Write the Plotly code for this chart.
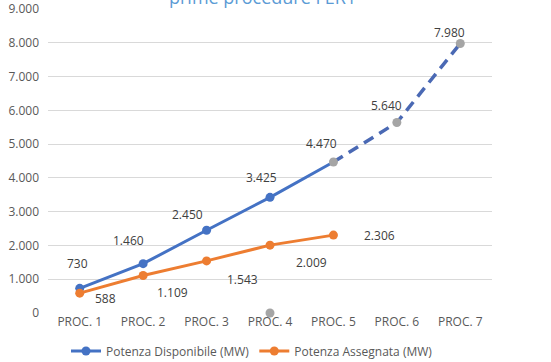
import plotly.graph_objects as go

categories = ["PROC. 1", "PROC. 2", "PROC. 3", "PROC. 4", "PROC. 5", "PROC. 6", "PROC. 7"]
disponibile = [730, 1460, 2450, 3425, 4470, 5640, 7980]
assegnata = [588, 1109, 1543, 2009, 2306]
n_solid = 5  # Disponibile actual values up to PROC. 5, forecast afterwards
extra_cat = ["PROC. 4"]
extra_val = [0]
y_ticks = [0, 1000, 2000, 3000, 4000, 5000, 6000, 7000, 8000, 9000]
title_text = "prime procedure FER1"

BLUE = "#4472C4"
BLUE_DASH = "#4A69B4"
ORANGE = "#ED7D31"
GRAY = "#A5A5A5"
TXT = "#595959"
FONT = "Open Sans"

# label offsets (style)
blue_dx = [-2, -15, -19, -9, -12, -10, -11]
blue_dy = [25, 23, 16, 20, 19, 17, 11]
orange_dx = [26, 29, 36, 41, 46]
orange_dy = [-5, -17, -19, -17, 0]

fig = go.Figure()

blue_marker_colors = [BLUE] * (n_solid - 1) + [GRAY] * (len(disponibile) - n_solid + 1)

fig.add_trace(go.Scatter(
    x=categories[n_solid - 1:], y=disponibile[n_solid - 1:], mode="lines",
    line=dict(color=BLUE_DASH, width=3.5, dash="11px,7px"), showlegend=False, hoverinfo="skip",
    cliponaxis=False))
fig.add_trace(go.Scatter(
    x=categories[:n_solid], y=disponibile[:n_solid], mode="lines",
    line=dict(color=BLUE, width=3), cliponaxis=False, showlegend=False))
fig.add_trace(go.Scatter(
    x=categories, y=disponibile, mode="markers",
    marker=dict(color=blue_marker_colors, size=9), showlegend=False, cliponaxis=False))
# legend entries
fig.add_trace(go.Scatter(
    x=[None], y=[None], mode="lines+markers", name="Potenza Disponibile (MW)",
    line=dict(color=BLUE, width=3), marker=dict(color=BLUE, size=9)))
fig.add_trace(go.Scatter(
    x=categories[:len(assegnata)], y=assegnata, mode="lines+markers",
    name="Potenza Assegnata (MW)", line=dict(color=ORANGE, width=3),
    marker=dict(color=ORANGE, size=9), cliponaxis=False))
fig.add_trace(go.Scatter(
    x=extra_cat, y=extra_val, mode="markers", marker=dict(color=GRAY, size=9),
    showlegend=False, cliponaxis=False))

def fmt(v):
    return f"{v:,}".replace(",", ".")

annotations = []
for c, v, dx, dy in zip(categories, disponibile, blue_dx, blue_dy):
    annotations.append(dict(x=c, y=v, xref="x", yref="y", text=fmt(v), showarrow=False,
                            xshift=dx, yshift=dy, font=dict(family=FONT, size=12, color="#404040")))
for c, v, dx, dy in zip(categories, assegnata, orange_dx, orange_dy):
    annotations.append(dict(x=c, y=v, xref="x", yref="y", text=fmt(v), showarrow=False,
                            xshift=dx, yshift=dy, font=dict(family=FONT, size=12, color="#404040")))
annotations.append(dict(x=(262 - 48) / 444, y=1, xref="paper", yref="paper", text=title_text,
                        showarrow=False, xanchor="center", yanchor="bottom", yshift=-2,
                        font=dict(family=FONT, size=18, color="#5B9BD5")))

fig.update_layout(
    width=551, height=362,
    margin=dict(l=48, r=59, t=9, b=49, autoexpand=False),
    paper_bgcolor="white", plot_bgcolor="white",
    separators=",.",
    font=dict(family=FONT, size=12, color=TXT),
    showlegend=True,
    legend=dict(orientation="h", x=(252 - 48) / 444, xanchor="center", y=-0.125, yanchor="middle",
                font=dict(family=FONT, size=12, color=TXT), itemwidth=30, tracegroupgap=0,
                bgcolor="rgba(0,0,0,0)"),
    annotations=annotations,
)
fig.update_xaxes(type="category", categoryorder="array", categoryarray=categories,
                 range=[-0.5, 6.5], showgrid=False, showline=False, zeroline=False,
                 ticks="", tickfont=dict(family=FONT, size=12, color=TXT), automargin=False)
fig.update_yaxes(range=[0, 9000], tickvals=y_ticks, tickformat=",d",
                 showgrid=True, gridcolor="#D9D9D9", gridwidth=1, zeroline=False,
                 showline=False, ticks="", tickfont=dict(family=FONT, size=12, color=TXT),
                 ticklabelstandoff=8, automargin=False)

fig.write_html("out.html", config={"displayModeBar": False},
               post_script="document.body.style.margin='0';document.body.style.overflow='hidden';")
